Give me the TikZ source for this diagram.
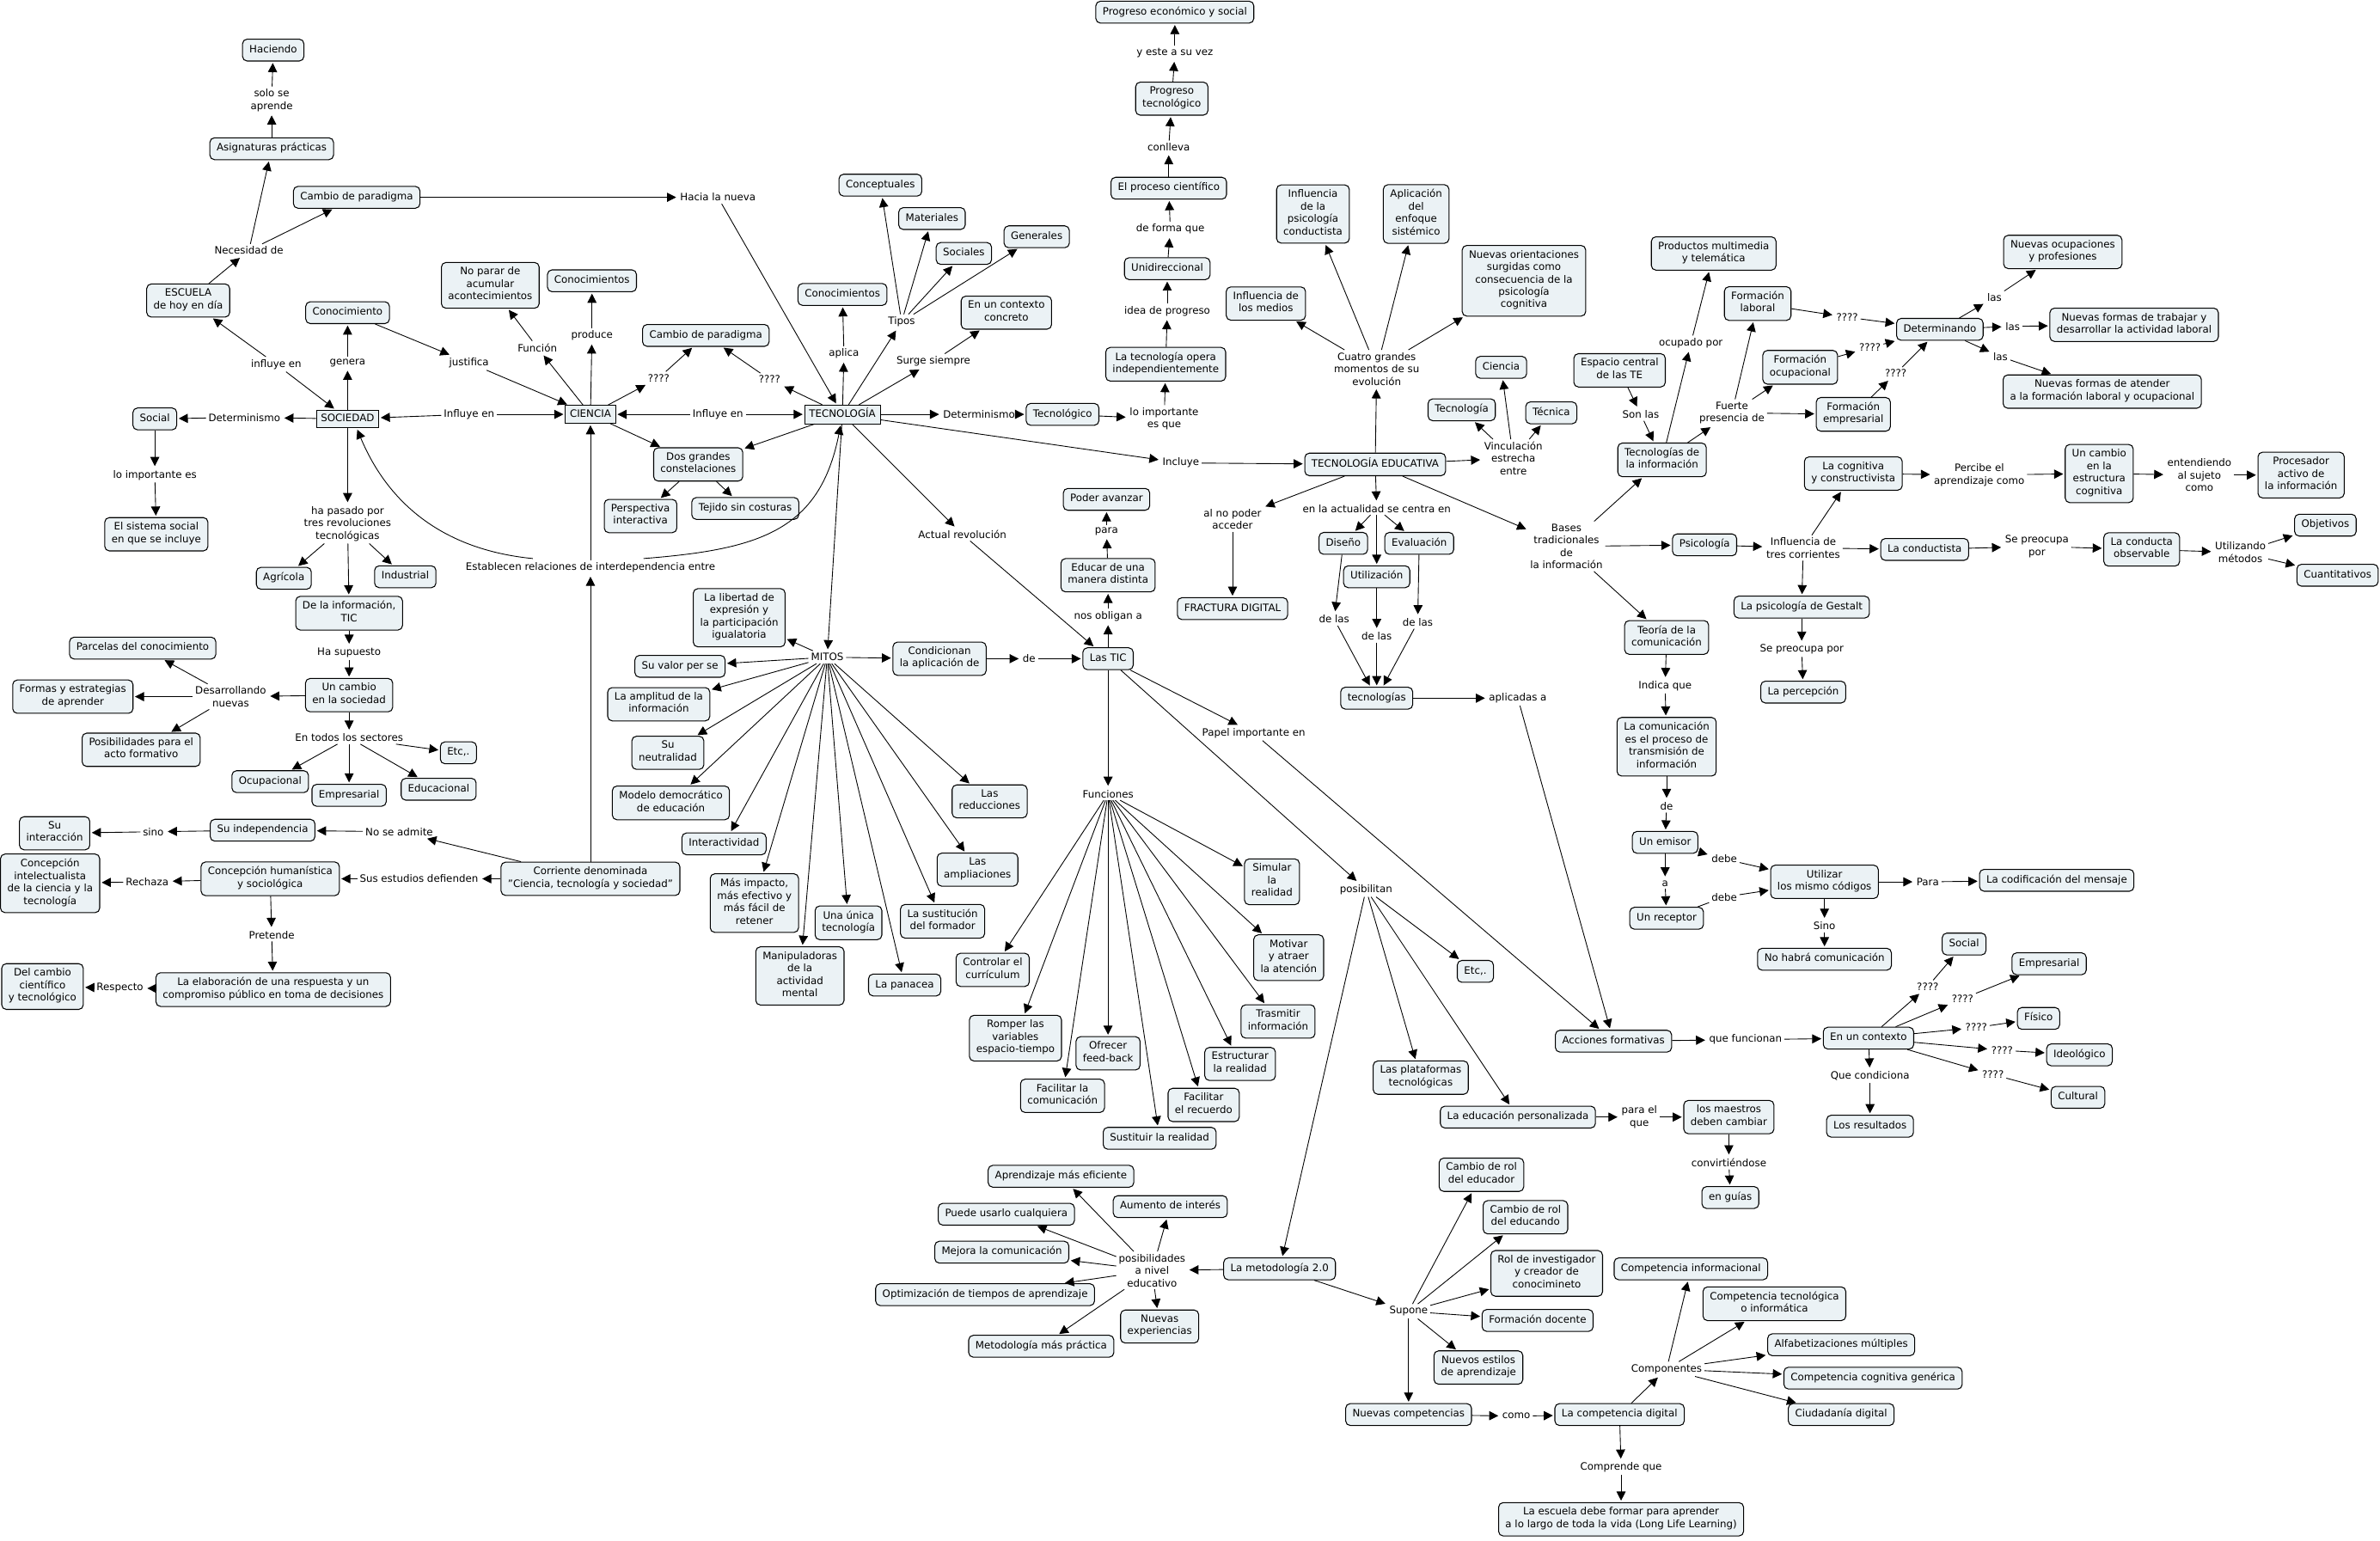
\documentclass[tikz,border=0pt]{standalone}
\usepackage{fontspec}
\setmainfont{DejaVu Sans}
\usetikzlibrary{arrows.meta,calc}
\definecolor{cfill}{HTML}{EBF2F5}
\begin{document}
\begin{tikzpicture}[x=1pt,y=-1pt,
  every node/.style={font=\fontsize{6.7}{8.2}\selectfont, align=center},
  con/.style={draw, fill=cfill, rounded corners=3pt, inner xsep=4.5pt, inner ysep=3.1pt, line width=0.6pt, execute at begin node=\strut, execute at end node=\strut},
  mainbox/.style={draw, fill=cfill, inner xsep=3pt, inner ysep=1.8pt, line width=0.5pt, execute at begin node=\strut, execute at end node=\strut},
  lab/.style={inner sep=1.5pt},
  ar/.style={-{Triangle[length=6pt,width=6pt]}, line width=0.5pt, shorten >=1pt},
  ln/.style={line width=0.5pt}
]
\useasboundingbox (0,0) rectangle (1568,1015);
% ---------- top left
\node[con] (hac) at (180,33) {Haciendo};
\node[lab] (solo) at (179,66) {solo se\\aprende};
\node[con] (asig) at (179,98) {Asignaturas prácticas};
\node[con] (camb1) at (235,130) {Cambio de paradigma};
\node[lab] (hacia) at (473,130) {Hacia la nueva};
\node[lab] (nec) at (164,165) {Necesidad de};
\node[con] (esc) at (124,198) {ESCUELA\\de hoy en día};
\node[con] (conoc1) at (229,206) {Conocimiento};
\node[con] (nopar) at (323,188) {No parar de\\acumular\\acontecimientos};
\node[con] (conoc2) at (390,185) {Conocimientos};
\node[lab] (produce) at (390,221) {produce};
\node[lab] (funcion) at (354,229) {Función};
\node[lab] (justif) at (309,239) {justifica};
\node[lab] (genera) at (229,239) {genera};
\node[lab] (influ1) at (182,240) {influye en};
\node[con] (camb2) at (465,221) {Cambio de paradigma};
\node[lab] (q1) at (434,249) {????};
\node[lab] (q2) at (507,250) {????};
\node[con] (social) at (102,276) {Social};
\node[lab] (det1) at (161,275) {Determinismo};
\node[mainbox] (soc) at (229,276) {SOCIEDAD};
\node[lab] (influ2) at (309,273) {Influye en};
\node[mainbox] (cien) at (389,273) {CIENCIA};
\node[lab] (influ3) at (473,273) {Influye en};
\node[mainbox] (tec) at (555,273) {TECNOLOGÍA};
\node[lab] (det2) at (645,273) {Determinismo};
\node[con] (tecno) at (700,273) {Tecnológico};
\node[lab] (loimp2) at (767,276) {lo importante\\es que};
\node[lab] (incluye) at (778,305) {Incluye};
\node[con] (te) at (906,306) {TECNOLOGÍA EDUCATIVA};
% ---------- top middle chain
\node[con] (prog) at (774,8) {Progreso económico y social};
\node[lab] (yeste) at (774,35) {y este a su vez};
\node[con] (progt) at (772,65) {Progreso\\tecnológico};
\node[lab] (conlleva) at (770,97) {conlleva};
\node[con] (proc) at (770,124) {El proceso científico};
\node[lab] (deforma) at (771,151) {de forma que};
\node[con] (unid) at (769,177) {Unidireccional};
\node[lab] (idea) at (769,205) {idea de progreso};
\node[con] (opera) at (768,240) {La tecnología opera\\independientemente};
% ---------- tipos
\node[con] (concep) at (580,122) {Conceptuales};
\node[con] (mater) at (614,144) {Materiales};
\node[con] (socs) at (635,167) {Sociales};
\node[con] (gener) at (683,156) {Generales};
\node[con] (conoc3) at (555,194) {Conocimientos};
\node[lab] (tipos) at (594,212) {Tipos};
\node[con] (contexto) at (663,206) {En un contexto\\concreto};
\node[lab] (aplica) at (556,233) {aplica};
\node[lab] (surge) at (615,238) {Surge siempre};
\node[con] (dos) at (460,306) {Dos grandes\\constelaciones};
\node[con] (persp) at (422,340) {Perspectiva\\interactiva};
\node[con] (tejido) at (491,335) {Tejido sin costuras};
% ---------- tecnologia educativa
\node[con] (inflm) at (834,200) {Influencia de\\los medios};
\node[con] (inflc) at (865,141) {Influencia\\de la\\psicología\\conductista};
\node[con] (aplic) at (933,141) {Aplicación\\del\\enfoque\\sistémico};
\node[con] (nuevor) at (1004,185) {Nuevas orientaciones\\surgidas como\\consecuencia de la\\psicología\\cognitiva};
\node[lab] (cuatro) at (907,243) {Cuatro grandes\\momentos de su\\evolución};
\node[con] (cienc) at (989,242) {Ciencia};
\node[con] (tecnol) at (963,270) {Tecnología};
\node[con] (tecnica) at (1022,272) {Técnica};
\node[lab] (vinc) at (997,302) {Vinculación\\estrecha\\entre};
\node[lab] (alno) at (812,342) {al no poder\\acceder};
\node[con] (fract) at (812,401) {FRACTURA DIGITAL};
\node[lab] (actual) at (907,335) {en la actualidad se centra en};
\node[con] (dise) at (885,358) {Diseño};
\node[con] (eval) at (935,358) {Evaluación};
\node[con] (util) at (907,380) {Utilización};
\node[lab] (dl1) at (879,408) {de las};
\node[lab] (dl2) at (907,419) {de las};
\node[lab] (dl3) at (934,410) {de las};
\node[con] (tecs) at (907,460) {tecnologías};
\node[lab] (aplicadas) at (1000,460) {aplicadas a};
\node[lab] (bases) at (1032,360) {Bases\\tradicionales\\de\\la información};
\node[con] (psico) at (1123,359) {Psicología};
\node[lab] (tres) at (1188,361) {Influencia de\\tres corrientes};
\node[con] (condu) at (1268,362) {La conductista};
\node[lab] (sepre1) at (1342,360) {Se preocupa\\por};
\node[con] (condobs) at (1411,362) {La conducta\\observable};
\node[lab] (utiliz) at (1476,364) {Utilizando\\métodos};
\node[con] (obj) at (1532,346) {Objetivos};
\node[con] (cuant) at (1540,379) {Cuantitativos};
\node[con] (cogn) at (1221,312) {La cognitiva\\y constructivista};
\node[lab] (percibe) at (1304,313) {Percibe el\\aprendizaje como};
\node[con] (ucam) at (1383,312) {Un cambio\\en la\\estructura\\cognitiva};
\node[lab] (entend) at (1449,313) {entendiendo\\al sujeto\\como};
\node[con] (proces) at (1516,313) {Procesador\\activo de\\la información};
\node[con] (gest) at (1187,400) {La psicología de Gestalt};
\node[lab] (sepre2) at (1187,428) {Se preocupa por};
\node[con] (percep) at (1188,456) {La percepción};
\node[con] (teoria) at (1098,420) {Teoría de la\\comunicación};
\node[lab] (indica) at (1097,452) {Indica que};
\node[con] (lacom) at (1098,492) {La comunicación\\es el proceso de\\transmisión de\\información};
\node[lab] (de2) at (1098,531) {de};
\node[con] (emisor) at (1097,555) {Un emisor};
\node[lab] (a) at (1097,582) {a};
\node[con] (recep) at (1098,605) {Un receptor};
\node[lab] (debe1) at (1136,566) {debe};
\node[lab] (debe2) at (1136,591) {debe};
\node[con] (utilc) at (1202,581) {Utilizar\\los mismo códigos};
\node[lab] (para2) at (1270,581) {Para};
\node[con] (codif) at (1355,580) {La codificación del mensaje};
\node[lab] (sino2) at (1202,610) {Sino};
\node[con] (nohab) at (1202,632) {No habrá comunicación};
% ---------- top right
\node[con] (espacio) at (1067,244) {Espacio central\\de las TE};
\node[lab] (sonlas) at (1081,273) {Son las};
\node[con] (tinfo) at (1095,303) {Tecnologías de\\la información};
\node[lab] (ocup) at (1114,226) {ocupado por};
\node[con] (prod) at (1129,167) {Productos multimedia\\y telemática};
\node[lab] (fuerte) at (1141,272) {Fuerte\\presencia de};
\node[con] (flab) at (1158,200) {Formación\\laboral};
\node[con] (focu) at (1186,242) {Formación\\ocupacional};
\node[con] (femp) at (1221,273) {Formación\\empresarial};
\node[lab] (q3) at (1217,209) {????};
\node[lab] (q4) at (1232,229) {????};
\node[lab] (q5) at (1249,246) {????};
\node[con] (determ) at (1278,217) {Determinando};
\node[lab] (las1) at (1314,196) {las};
\node[lab] (las2) at (1326,215) {las};
\node[lab] (las3) at (1318,235) {las};
\node[con] (nocup) at (1359,166) {Nuevas ocupaciones\\y profesiones};
\node[con] (ntrab) at (1406,214) {Nuevas formas de trabajar y\\desarrollar la actividad laboral};
\node[con] (nated) at (1385,258) {Nuevas formas de atender\\a la formación laboral y ocupacional};
% ---------- left lower
\node[lab] (loimp1) at (102,313) {lo importante es};
\node[con] (sist) at (103,352) {El sistema social\\en que se incluye};
\node[lab] (pasado) at (229,345) {ha pasado por\\tres revoluciones\\tecnológicas};
\node[con] (agri) at (187,381) {Agrícola};
\node[con] (indus) at (267,380) {Industrial};
\node[con] (dela) at (230,404) {De la información,\\TIC};
\node[lab] (hasup) at (230,430) {Ha supuesto};
\node[con] (ucs) at (230,458) {Un cambio\\en la sociedad};
\node[lab] (desarr) at (152,459) {Desarrollando\\nuevas};
\node[con] (parc) at (94,427) {Parcelas del conocimiento};
\node[con] (formas) at (48,459) {Formas y estrategias\\de aprender};
\node[con] (posib) at (93,494) {Posibilidades para el\\acto formativo};
\node[lab] (todos) at (230,486) {En todos los sectores};
\node[con] (etc1) at (302,496) {Etc,.};
\node[con] (ocupa) at (178,515) {Ocupacional};
\node[con] (empre1) at (230,524) {Empresarial};
\node[con] (educa) at (289,520) {Educacional};
\node[con] (suint) at (36,549) {Su\\interacción};
\node[lab] (sino1) at (101,548) {sino};
\node[con] (suind) at (173,547) {Su independencia};
\node[lab] (nose) at (263,548) {No se admite};
\node[con] (intel) at (33,582) {Concepción\\intelectualista\\de la ciencia y la\\tecnología};
\node[lab] (rech) at (97,581) {Rechaza};
\node[con] (human) at (178,579) {Concepción humanística\\y sociológica};
\node[lab] (susest) at (276,579) {Sus estudios defienden};
\node[con] (corr) at (389,579) {Corriente denominada\\"Ciencia, tecnología y sociedad"};
\node[lab] (pret) at (179,616) {Pretende};
\node[con] (elab) at (180,652) {La elaboración de una respuesta y un\\compromiso público en toma de decisiones};
\node[lab] (resp) at (79,651) {Respecto};
\node[con] (delc) at (28,650) {Del cambio\\científico\\y tecnológico};
\node[lab] (estab) at (389,374) {Establecen relaciones de interdependencia entre};
% ---------- middle
\node[lab] (mitos) at (545,433) {MITOS};
\node[con] (condic) at (619,434) {Condicionan\\la aplicación de};
\node[lab] (de1) at (678,434) {de};
\node[con] (tic) at (730,434) {Las TIC};
\node[lab] (obligan) at (730,406) {nos obligan a};
\node[con] (educar) at (730,379) {Educar de una\\manera distinta};
\node[lab] (para1) at (729,350) {para};
\node[con] (poder) at (729,329) {Poder avanzar};
\node[lab] (actrev) at (634,352) {Actual revolución};
\node[con] (libert) at (487,407) {La libertad de\\expresión y\\la participación\\igualatoria};
\node[con] (valor) at (448,439) {Su valor per se};
\node[con] (amplit) at (434,464) {La amplitud de la\\información};
\node[con] (neutr) at (440,496) {Su\\neutralidad};
\node[con] (modelo) at (442,529) {Modelo democrático\\de educación};
\node[con] (interac) at (477,556) {Interactividad};
\node[con] (masimp) at (497,595) {Más impacto,\\más efectivo y\\más fácil de\\retener};
\node[con] (manip) at (527,643) {Manipuladoras\\de la\\actividad\\mental};
\node[con] (unica) at (559,608) {Una única\\tecnología};
\node[con] (panac) at (596,649) {La panacea};
\node[con] (sustf) at (621,607) {La sustitución\\del formador};
\node[con] (amplia) at (644,573) {Las\\ampliaciones};
\node[con] (reduc) at (652,528) {Las\\reducciones};
\node[lab] (funcs) at (730,523) {Funciones};
\node[con] (contr) at (654,639) {Controlar el\\currículum};
\node[con] (romper) at (669,684) {Romper las\\variables\\espacio-tiempo};
\node[con] (faccom) at (700,722) {Facilitar la\\comunicación};
\node[con] (ofrec) at (730,694) {Ofrecer\\feed-back};
\node[con] (sustr) at (764,750) {Sustituir la realidad};
\node[con] (facrec) at (793,728) {Facilitar\\el recuerdo};
\node[con] (estruc) at (817,701) {Estructurar\\la realidad};
\node[con] (trasm) at (842,673) {Trasmitir\\información};
\node[con] (motiv) at (849,631) {Motivar\\y atraer\\la atención};
\node[con] (simul) at (838,581) {Simular\\la\\realidad};
\node[lab] (papel) at (826,483) {Papel importante en};
\node[lab] (posibil) at (900,586) {posibilitan};
\node[con] (etc2) at (972,640) {Etc,.};
\node[con] (plataf) at (936,710) {Las plataformas\\tecnológicas};
\node[con] (edper) at (1000,736) {La educación personalizada};
\node[lab] (parael) at (1080,736) {para el\\que};
\node[con] (maestr) at (1139,736) {los maestros\\deben cambiar};
\node[lab] (convirt) at (1139,766) {convirtiéndose};
\node[con] (guias) at (1140,789) {en guías};
\node[con] (accion) at (1063,686) {Acciones formativas};
\node[lab] (quefun) at (1150,685) {que funcionan};
\node[con] (encont) at (1231,684) {En un contexto};
\node[lab] (q6) at (1270,650) {????};
\node[lab] (q7) at (1293,658) {????};
\node[lab] (q8) at (1302,677) {????};
\node[lab] (q9) at (1319,692) {????};
\node[lab] (q10) at (1313,708) {????};
\node[con] (social2) at (1294,622) {Social};
\node[con] (empre2) at (1350,635) {Empresarial};
\node[con] (fisico) at (1343,671) {Físico};
\node[con] (ideol) at (1370,695) {Ideológico};
\node[con] (cultu) at (1369,723) {Cultural};
\node[lab] (quecond) at (1232,709) {Que condiciona};
\node[con] (result) at (1232,742) {Los resultados};
% ---------- bottom
\node[con] (met) at (843,836) {La metodología 2.0};
\node[lab] (posniv) at (759,837) {posibilidades\\a nivel\\educativo};
\node[con] (aprend) at (699,775) {Aprendizaje más eficiente};
\node[con] (aument) at (771,795) {Aumento de interés};
\node[con] (puede) at (663,800) {Puede usarlo cualquiera};
\node[con] (mejora) at (660,825) {Mejora la comunicación};
\node[con] (optim) at (649,853) {Optimización de tiempos de aprendizaje};
\node[con] (metprac) at (686,887) {Metodología más práctica};
\node[con] (nuevexp) at (764,874) {Nuevas\\experiencias};
\node[lab] (supone) at (928,864) {Supone};
\node[con] (rol1) at (976,774) {Cambio de rol\\del educador};
\node[con] (rol2) at (1005,802) {Cambio de rol\\del educando};
\node[con] (rol3) at (1019,839) {Rol de investigador\\y creador de\\conocimineto};
\node[con] (fdoc) at (1013,870) {Formación docente};
\node[con] (nestil) at (974,901) {Nuevos estilos\\de aprendizaje};
\node[con] (ncomp) at (928,932) {Nuevas competencias};
\node[lab] (como) at (999,933) {como};
\node[con] (cdig) at (1067,932) {La competencia digital};
\node[lab] (compon) at (1098,902) {Componentes};
\node[con] (cinf) at (1114,836) {Competencia informacional};
\node[con] (ctec) at (1169,859) {Competencia tecnológica\\o informática};
\node[con] (alfab) at (1213,886) {Alfabetizaciones múltiples};
\node[con] (ccog) at (1234,908) {Competencia cognitiva genérica};
\node[con] (ciuda) at (1213,932) {Ciudadanía digital};
\node[lab] (comprende) at (1068,967) {Comprende que};
\node[con] (escuela) at (1068,1001) {La escuela debe formar para aprender\\a lo largo de toda la vida (Long Life Learning)};
\coordinate (estL) at (351,368);
\coordinate (estR) at (424,368);
% ================= connectors
\draw[ar] (asig) -- (solo); \draw[ar] (solo) -- (hac);
\draw[ar] (nec) -- (asig); \draw[ar] (nec) -- (camb1);
\draw[ar] (esc) -- (nec);
\draw[ar] (camb1) -- (hacia); \draw[ar] (hacia) -- (tec);
\draw[ar] (influ1) -- (esc); \draw[ar] (influ1) -- (soc);
\draw[ar] (soc) -- (genera); \draw[ar] (genera) -- (conoc1);
\draw[ar] (conoc1) -- (justif); \draw[ar] (justif) -- (cien);
\draw[ar] (cien) -- (funcion); \draw[ar] (funcion) -- (nopar);
\draw[ar] (cien) -- (produce); \draw[ar] (produce) -- (conoc2);
\draw[ar] (cien) -- (q1); \draw[ar] (q1) -- (camb2);
\draw[ar] (tec) -- (q2); \draw[ar] (q2) -- (camb2);
\draw[ar] (soc) -- (det1); \draw[ar] (det1) -- (social);
\draw[ar] (influ2) -- (soc); \draw[ar] (influ2) -- (cien);
\draw[ar] (influ3) -- (cien); \draw[ar] (influ3) -- (tec);
\draw[ar] (tec) -- (det2); \draw[ar] (det2) -- (tecno);
\draw[ar] (tecno) -- (loimp2); \draw[ar] (loimp2) -- (opera);
\draw[ar] (opera) -- (idea); \draw[ar] (idea) -- (unid);
\draw[ar] (unid) -- (deforma); \draw[ar] (deforma) -- (proc);
\draw[ar] (proc) -- (conlleva); \draw[ar] (conlleva) -- (progt);
\draw[ar] (progt) -- (yeste); \draw[ar] (yeste) -- (prog);
\draw[ar] (tec) -- (incluye); \draw[ar] (incluye) -- (te);
\draw[ar] (tec) -- (tipos);
\foreach \t in {concep,mater,socs,gener} \draw[ar] (tipos) -- (\t);
\draw[ar] (tec) -- (aplica); \draw[ar] (aplica) -- (conoc3);
\draw[ar] (tec) -- (surge); \draw[ar] (surge) -- (contexto);
\draw[ar] (cien) -- (dos); \draw[ar] (tec) -- (dos);
\draw[ar] (dos) -- (persp); \draw[ar] (dos) -- (tejido);
\draw[ar] (tec) -- (mitos);
\draw[ar] (tec) -- (actrev); \draw[ar] (actrev) -- (tic);
% TE
\draw[ar] (te) -- (cuatro);
\foreach \t in {inflm,inflc,aplic,nuevor} \draw[ar] (cuatro) -- (\t);
\draw[ar] (te) -- (vinc);
\foreach \t in {cienc,tecnol,tecnica} \draw[ar] (vinc) -- (\t);
\draw[ar] (te) -- (alno); \draw[ar] (alno) -- (fract);
\draw[ar] (te) -- (actual);
\foreach \t in {dise,util,eval} \draw[ar] (actual) -- (\t);
\draw[ar] (dise) -- (dl1); \draw[ar] (dl1) -- (tecs);
\draw[ar] (util) -- (dl2); \draw[ar] (dl2) -- (tecs);
\draw[ar] (eval) -- (dl3); \draw[ar] (dl3) -- (tecs);
\draw[ar] (tecs) -- (aplicadas); \draw[ar] (aplicadas) -- (accion);
\draw[ar] (te) -- (bases);
\foreach \t in {tinfo,psico,teoria} \draw[ar] (bases) -- (\t);
\draw[ar] (psico) -- (tres);
\foreach \t in {condu,cogn,gest} \draw[ar] (tres) -- (\t);
\draw[ar] (condu) -- (sepre1); \draw[ar] (sepre1) -- (condobs);
\draw[ar] (condobs) -- (utiliz); \draw[ar] (utiliz) -- (obj); \draw[ar] (utiliz) -- (cuant);
\draw[ar] (cogn) -- (percibe); \draw[ar] (percibe) -- (ucam);
\draw[ar] (ucam) -- (entend); \draw[ar] (entend) -- (proces);
\draw[ar] (gest) -- (sepre2); \draw[ar] (sepre2) -- (percep);
\draw[ar] (teoria) -- (indica); \draw[ar] (indica) -- (lacom);
\draw[ar] (lacom) -- (de2); \draw[ar] (de2) -- (emisor);
\draw[ar] (emisor) -- (a); \draw[ar] (a) -- (recep);
\draw[ar] (emisor) -- (debe1); \draw[ar] (debe1) -- (utilc);
\draw[ln] (recep) -- (debe2); \draw[ar] (debe2) -- (utilc);
\draw[ar] (utilc) -- (para2); \draw[ar] (para2) -- (codif);
\draw[ar] (utilc) -- (sino2); \draw[ar] (sino2) -- (nohab);
\draw[ar] (espacio) -- (sonlas); \draw[ar] (sonlas) -- (tinfo);
\draw[ar] (tinfo) -- (ocup); \draw[ar] (ocup) -- (prod);
\draw[ar] (tinfo) -- (fuerte);
\foreach \t in {flab,focu,femp} \draw[ar] (fuerte) -- (\t);
\draw[ar] (flab) -- (q3); \draw[ar] (q3) -- (determ);
\draw[ar] (focu) -- (q4); \draw[ar] (q4) -- (determ);
\draw[ar] (femp) -- (q5); \draw[ar] (q5) -- (determ);
\draw[ar] (determ) -- (las1); \draw[ar] (las1) -- (nocup);
\draw[ar] (determ) -- (las2); \draw[ar] (las2) -- (ntrab);
\draw[ar] (determ) -- (las3); \draw[ar] (las3) -- (nated);
% left
\draw[ar] (social) -- (loimp1); \draw[ar] (loimp1) -- (sist);
\draw[ar] (soc) -- (pasado);
\foreach \t in {agri,indus,dela} \draw[ar] (pasado) -- (\t);
\draw[ar] (dela) -- (hasup); \draw[ar] (hasup) -- (ucs);
\draw[ar] (ucs) -- (desarr);
\foreach \t in {parc,formas,posib} \draw[ar] (desarr) -- (\t);
\draw[ar] (ucs) -- (todos);
\foreach \t in {etc1,ocupa,empre1,educa} \draw[ar] (todos) -- (\t);
\draw[ar] (corr) -- (nose); \draw[ar] (nose) -- (suind);
\draw[ar] (suind) -- (sino1); \draw[ar] (sino1) -- (suint);
\draw[ar] (corr) -- (susest); \draw[ar] (susest) -- (human);
\draw[ar] (human) -- (rech); \draw[ar] (rech) -- (intel);
\draw[ar] (human) -- (pret); \draw[ar] (pret) -- (elab);
\draw[ar] (elab) -- (resp); \draw[ar] (resp) -- (delc);
\draw[ar] (corr) -- (estab); \draw[ar] (estab) -- (cien);
\draw[ar] (estL) .. controls (290,362) and (255,330) .. ($(soc.south)+(6,0)$);
\draw[ar] (estR) .. controls (500,362) and (540,350) .. ($(tec.south)+(-1,0)$);
% middle
\foreach \t in {libert,valor,amplit,neutr,modelo,interac,masimp,manip,unica,panac,sustf,amplia,reduc} \draw[ar] (mitos) -- (\t);
\draw[ar] (mitos) -- (condic); \draw[ar] (condic) -- (de1); \draw[ar] (de1) -- (tic);
\draw[ar] (tic) -- (obligan); \draw[ar] (obligan) -- (educar);
\draw[ar] (educar) -- (para1); \draw[ar] (para1) -- (poder);
\draw[ar] (tic) -- (funcs);
\foreach \t in {contr,romper,faccom,ofrec,sustr,facrec,estruc,trasm,motiv,simul} \draw[ar] (funcs) -- (\t);
\draw[ar] (tic) -- (papel); \draw[ar] (papel) -- (accion);
\draw[ar] (tic) -- (posibil);
\foreach \t in {etc2,plataf,edper,met} \draw[ar] (posibil) -- (\t);
\draw[ar] (edper) -- (parael); \draw[ar] (parael) -- (maestr);
\draw[ar] (maestr) -- (convirt); \draw[ar] (convirt) -- (guias);
\draw[ar] (accion) -- (quefun); \draw[ar] (quefun) -- (encont);
\draw[ar] (encont) -- (q6); \draw[ar] (q6) -- (social2);
\draw[ar] (encont) -- (q7); \draw[ar] (q7) -- (empre2);
\draw[ar] (encont) -- (q8); \draw[ar] (q8) -- (fisico);
\draw[ar] (encont) -- (q9); \draw[ar] (q9) -- (ideol);
\draw[ar] (encont) -- (q10); \draw[ar] (q10) -- (cultu);
\draw[ar] (encont) -- (quecond); \draw[ar] (quecond) -- (result);
% bottom
\draw[ar] (met) -- (posniv);
\foreach \t in {aprend,aument,puede,mejora,optim,metprac,nuevexp} \draw[ar] (posniv) -- (\t);
\draw[ar] (met) -- (supone);
\foreach \t in {rol1,rol2,rol3,fdoc,nestil,ncomp} \draw[ar] (supone) -- (\t);
\draw[ar] (ncomp) -- (como); \draw[ar] (como) -- (cdig);
\draw[ar] (cdig) -- (compon);
\foreach \t in {cinf,ctec,alfab,ccog,ciuda} \draw[ar] (compon) -- (\t);
\draw[ar] (cdig) -- (comprende); \draw[ar] (comprende) -- (escuela);
\end{tikzpicture}
\end{document}
